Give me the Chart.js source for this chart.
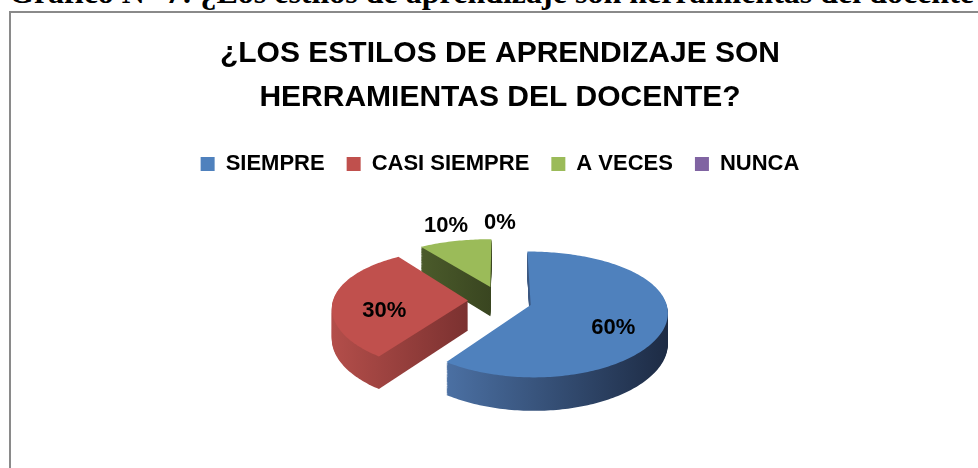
<!DOCTYPE html>
<html>
<head>
<meta charset="utf-8">
<script src="https://cdn.jsdelivr.net/npm/chart.js@4/dist/chart.umd.min.js"></script>
<style>
  body { margin: 0; background: #fff; overflow: hidden; }
  #caption {
    position: absolute; left: 9px; top: -24px;
    font: bold 32px "Liberation Serif", serif; line-height: 32px;
    white-space: nowrap; color: #000;
  }
  #frame {
    position: absolute; left: 9px; top: 11px; width: 1000px; height: 500px;
    border: 2px solid #8a8a8a;
  }
  #chartBox { position: absolute; left: 0; top: 0; }
</style>
</head>
<body>
<div id="caption">Gráfico N° 7: ¿Los estilos de aprendizaje son herramientas del docente?</div>
<div id="frame"></div>
<div id="chartBox"><canvas id="pieChart" width="978" height="468"></canvas></div>
<script>
// data
const categories = ["SIEMPRE", "CASI SIEMPRE", "A VECES", "NUNCA"];
const percentages = [60, 30, 10, 0];
const topColors = ["#4f81bd", "#c0504d", "#9bbb59", "#8064a2"];
// side colours: [left, right] of the extruded part
const sideColors = [["#4b70a3", "#1d2b44"], ["#b34e4a", "#7b3130"], ["#4b5b2b", "#394520"], ["#5e4a7a", "#463759"]];
const titleLines = ["¿LOS ESTILOS DE APRENDIZAJE SON", "HERRAMIENTAS DEL DOCENTE?"];

// fake 3d look: tilt + a bit of perspective
const tiltA = 0.456;
const tiltB = 0.000515;
const persp = 0.0008;
const depth = 30;

function project(cx, cy, dx, dy, h) {
    const s = 1 + persp * dy;
    return [cx + dx * s, cy + tiltA * dy + tiltB * dy * dy + h * s];
}

function slicePath(ctx, el, h) {
    const p = el.getProps(["x", "y", "startAngle", "endAngle", "outerRadius"], true);
    const off = el.options.offset || 0;
    const mid = (p.startAngle + p.endAngle) / 2;
    const ax = Math.cos(mid) * off;
    const ay = Math.sin(mid) * off;
    const steps = Math.max(2, Math.ceil((p.endAngle - p.startAngle) / 0.02));
    let pt = project(p.x, p.y, ax, ay, h);
    ctx.beginPath();
    ctx.moveTo(pt[0], pt[1]);
    let minX = pt[0], maxX = pt[0];
    for (let k = 0; k <= steps; k++) {
        const t = p.startAngle + (p.endAngle - p.startAngle) * k / steps;
        pt = project(p.x, p.y, ax + Math.cos(t) * p.outerRadius, ay + Math.sin(t) * p.outerRadius, h);
        ctx.lineTo(pt[0], pt[1]);
        minX = Math.min(minX, pt[0]);
        maxX = Math.max(maxX, pt[0]);
    }
    ctx.closePath();
    return [minX, maxX];
}

const pie3d = {
    id: "pie3d",
    beforeDatasetsDraw(chart) {
        const ctx = chart.ctx;
        const meta = chart.getDatasetMeta(0);
        const els = meta.data;

        // paint from back to front
        const order = els.map((el, i) => i).sort((a, b) => {
            const ma = (els[a].startAngle + els[a].endAngle) / 2;
            const mb = (els[b].startAngle + els[b].endAngle) / 2;
            return Math.sin(ma) - Math.sin(mb);
        });

        order.forEach((i) => {
            const el = els[i];
            if (el.circumference === 0) return;
            ctx.save();
            for (let h = depth; h >= 1; h--) {
                const ext = slicePath(ctx, el, h);
                const grad = ctx.createLinearGradient(ext[0], 0, ext[1], 0);
                grad.addColorStop(0, sideColors[i][0]);
                grad.addColorStop(1, sideColors[i][1]);
                ctx.fillStyle = grad;
                ctx.fill();
            }
            slicePath(ctx, el, 0);
            ctx.fillStyle = topColors[i];
            ctx.fill();
            ctx.restore();
        });

        // percentage labels, small slices get theirs outside
        const total = percentages.reduce((a, b) => a + b, 0);
        ctx.save();
        ctx.font = "bold 22px 'Liberation Sans', Arial, sans-serif";
        ctx.fillStyle = "#000";
        ctx.textAlign = "center";
        ctx.textBaseline = "middle";
        els.forEach((el, i) => {
            const p = el.getProps(["x", "y", "startAngle", "endAngle", "outerRadius"], true);
            const off = el.options.offset || 0;
            const mid = (p.startAngle + p.endAngle) / 2;
            const share = percentages[i] / total;
            const inside = share >= 0.15;
            const r = off + p.outerRadius * (inside ? 0.62 : 1.3);
            const pt = project(p.x, p.y, Math.cos(mid) * r, Math.sin(mid) * r, inside ? depth / 3 : -6);
            ctx.fillText(Math.round(share * 100) + "%", pt[0], pt[1]);
        });
        ctx.restore();
        return false;
    }
};

new Chart("pieChart", {
    type: "pie",
    data: {
        labels: categories,
        datasets: [{
            data: percentages,
            backgroundColor: topColors,
            borderWidth: 0,
            offset: 32,
        }]
    },
    options: {
        responsive: false,
        animation: false,
        radius: 135,
        layout: {
            padding: { left: 22, right: 0, top: 0, bottom: 52 }
        },
        plugins: {
            title: {
                display: true,
                text: titleLines,
                color: "#000",
                font: { family: "'Liberation Sans', Arial, sans-serif", size: 30, weight: "bold", lineHeight: 1.45 },
                padding: { top: 32, bottom: 12 },
            },
            legend: {
                display: true,
                position: "top",
                labels: {
                    boxWidth: 14,
                    boxHeight: 14,
                    padding: 22,
                    color: "#000",
                    font: { family: "'Liberation Sans', Arial, sans-serif", size: 22, weight: "bold" },
                }
            },
            tooltip: { enabled: false }
        }
    },
    plugins: [pie3d]
});
</script>
</body>
</html>
